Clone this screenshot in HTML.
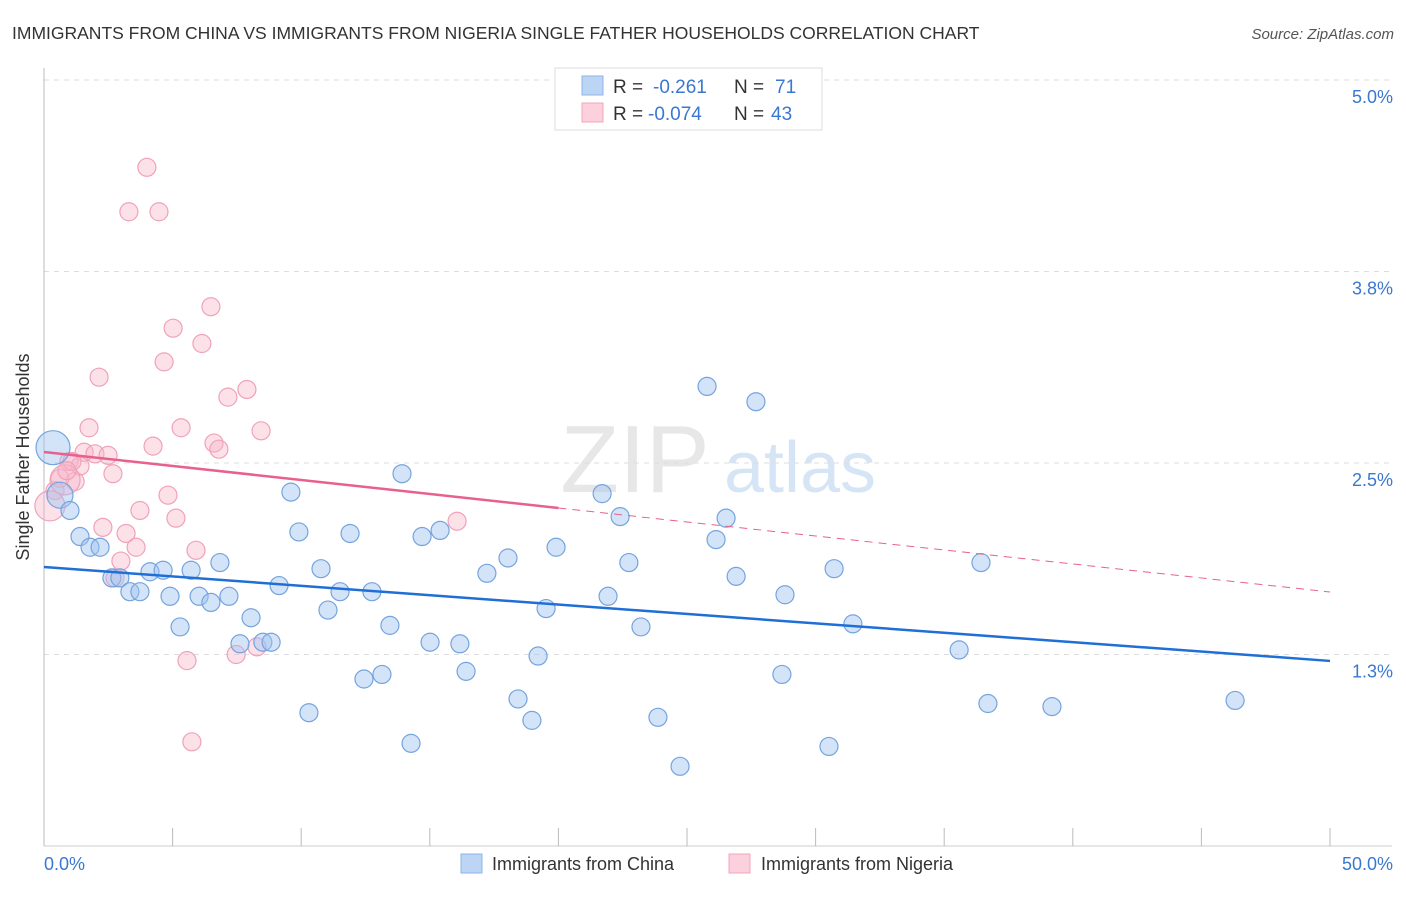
<!DOCTYPE html>
<html><head><meta charset="utf-8"><style>
body{margin:0;background:#fff;font-family:"Liberation Sans",sans-serif}
svg text{font-family:"Liberation Sans",sans-serif}
</style></head><body>
<svg id="c" width="1406" height="892">
<text x="12" y="39" font-size="17.5" fill="#333">IMMIGRANTS FROM CHINA VS IMMIGRANTS FROM NIGERIA SINGLE FATHER HOUSEHOLDS CORRELATION CHART</text>
<text x="1394" y="39" font-size="15" fill="#555" font-style="italic" text-anchor="end">Source: ZipAtlas.com</text>
<text x="29" y="457" font-size="18" fill="#333" text-anchor="middle" transform="rotate(-90 29 457)">Single Father Households</text>
<g><text x="635" y="492" font-size="96" fill="#ddd" font-family="Liberation Serif" text-anchor="middle" opacity="0.7">ZIP</text><text x="800" y="492" font-size="72" fill="#c6dbf2" text-anchor="middle" opacity="0.7">atlas</text></g>
<g id="grid"></g><g id="marks"></g><g id="lines"></g>
<g>
<rect x="555" y="68" width="267" height="62" fill="#fff" stroke="#ddd"/>
<rect x="582" y="76" width="21" height="19" fill="#bcd5f5" stroke="#8db4e6"/>
<rect x="582" y="103" width="21" height="19" fill="#fcd0dc" stroke="#f2a6bc"/>
<text x="613" y="93" font-size="19" fill="#333">R = </text><text x="653" y="93" font-size="19" fill="#3a78d0">-0.261</text>
<text x="734" y="93" font-size="19" fill="#333">N = </text><text x="775" y="93" font-size="19" fill="#3a78d0">71</text>
<text x="613" y="120" font-size="19" fill="#333">R = </text><text x="648" y="120" font-size="19" fill="#3a78d0">-0.074</text>
<text x="734" y="120" font-size="19" fill="#333">N = </text><text x="771" y="120" font-size="19" fill="#3a78d0">43</text>
</g>
<g>
<rect x="461" y="854" width="21" height="19" fill="#bcd5f5" stroke="#8db4e6"/>
<text x="492" y="870" font-size="18" fill="#333">Immigrants from China</text>
<rect x="729" y="854" width="21" height="19" fill="#fcd0dc" stroke="#f2a6bc"/>
<text x="761" y="870" font-size="18" fill="#333">Immigrants from Nigeria</text>
</g>
</svg>
<script>
const yTicks=[1.25,2.5,3.75,5.0];
const yTickLabels=["1.3%","2.5%","3.8%","5.0%"];
const xTicks=[0,5,10,15,20,25,30,35,40,45,50];
const xEndLabels=["0.0%","50.0%"];
const chinaX=[.35,.62,1.01,1.40,1.79,2.18,2.64,2.95,3.34,3.73,4.12,4.63,4.90,5.29,5.72,6.03,6.49,6.84,7.19,7.62,8.05,8.51,8.83,9.14,9.60,9.91,10.30,10.77,11.04,11.51,11.90,12.44,12.75,13.14,13.45,13.92,14.27,14.70,15.01,15.40,16.17,16.41,17.22,18.04,18.43,18.97,19.21,19.52,19.91,21.70,21.93,22.40,22.74,23.21,23.87,24.73,25.78,26.13,26.52,26.91,27.68,28.69,28.81,30.52,30.72,31.45,35.58,36.43,36.70,39.19,46.31];
const chinaY=[2.60,2.29,2.19,2.02,1.95,1.95,1.75,1.75,1.66,1.66,1.79,1.80,1.63,1.43,1.80,1.63,1.59,1.85,1.63,1.32,1.49,1.33,1.33,1.70,2.31,2.05,.87,1.81,1.54,1.66,2.04,1.09,1.66,1.12,1.44,2.43,.67,2.02,1.33,2.06,1.32,1.14,1.78,1.88,.96,.82,1.24,1.55,1.95,2.30,1.63,2.15,1.85,1.43,.84,.52,3.00,2.00,2.14,1.76,2.90,1.12,1.64,.65,1.81,1.45,1.28,1.85,.93,.91,.95];
const chinaSize=[17,13];
const nigeriaX=[4.00,3.30,4.47,6.49,5.02,6.14,4.67,2.14,7.89,7.15,1.75,5.33,8.44,4.24,6.61,6.80,1.56,1.98,2.49,.97,1.40,2.68,.62,1.21,.43,.23,4.82,3.73,5.13,2.29,3.19,3.58,5.91,2.99,16.06,2.76,5.56,7.47,8.28,5.75,.82,1.09,.89];
const nigeriaY=[4.43,4.14,4.14,3.52,3.38,3.28,3.16,3.06,2.98,2.93,2.73,2.73,2.71,2.61,2.63,2.59,2.57,2.56,2.55,2.51,2.48,2.43,2.40,2.38,2.32,2.22,2.29,2.19,2.14,2.08,2.04,1.95,1.93,1.86,2.12,1.75,1.21,1.25,1.30,.68,2.39,2.51,2.45];
const nigeriaBig=[25,40];
const chinaTrend=[1.821,1.208];
const nigeriaTrend=[2.572,1.658];
const nigeriaSolidEnd=20;
const X=v=>44+v*25.72, Y=v=>846-v*153.2;
const NS="http://www.w3.org/2000/svg";
function mk(t,a,p){const e=document.createElementNS(NS,t);for(const k in a)e.setAttribute(k,a[k]);p.appendChild(e);return e;}
const grid=document.getElementById('grid'),marks=document.getElementById('marks'),lines=document.getElementById('lines');
yTicks.forEach((t,i)=>{
 const l=mk('line',{x1:44,x2:1392,y1:Y(t),y2:Y(t),stroke:'#ddd','stroke-dasharray':'5,5'},grid);
 
 
 const tx=mk('text',{x:1393,y:Y(t)+23,'font-size':18,fill:'#3a78d0','text-anchor':'end'},grid);
 tx.textContent=yTickLabels[i];
 
 
});
const ya=mk('line',{x1:44,x2:44,y1:68,y2:846,stroke:'#bbb'},grid);


const xa=mk('line',{x1:44,x2:1392,y1:846,y2:846,stroke:'#ccc'},grid);


xTicks.forEach(t=>{
 const l=mk('line',{x1:X(t),x2:X(t),y1:828,y2:846,stroke:'#bbb'},grid);
 
 
});
[[0,'start',44],[50,'end',1393]].forEach((d,i)=>{
 const tx=mk('text',{x:d[2],y:870,'font-size':18,fill:'#3a78d0','text-anchor':d[1]},grid);
 tx.textContent=xEndLabels[i];
 
 
});
nigeriaX.forEach((v,i)=>{
 const r=nigeriaBig.includes(i)?15:9;
 const c=mk('circle',{cx:X(v),cy:Y(nigeriaY[i]),r:r,fill:'rgba(247,180,200,0.4)',stroke:'#f0a2ba','stroke-width':1.2},marks);
 
 
});
chinaX.forEach((v,i)=>{
 const r=chinaSize[i]||9;
 const c=mk('circle',{cx:X(v),cy:Y(chinaY[i]),r:r,fill:'rgba(160,196,240,0.45)',stroke:'#74a4de','stroke-width':1.2},marks);
 
 
});
const bl=mk('line',{x1:X(0),y1:Y(chinaTrend[0]),x2:X(50),y2:Y(chinaTrend[1]),stroke:'#1f6fd6','stroke-width':2.5},lines);


const py=x=>nigeriaTrend[0]+(nigeriaTrend[1]-nigeriaTrend[0])*x/50;
const pl=mk('line',{x1:X(0),y1:Y(py(0)),x2:X(nigeriaSolidEnd),y2:Y(py(nigeriaSolidEnd)),stroke:'#e8608e','stroke-width':2.5},lines);


const pd=mk('line',{x1:X(nigeriaSolidEnd),y1:Y(py(nigeriaSolidEnd)),x2:X(50),y2:Y(py(50)),stroke:'#e8608e','stroke-width':1,'stroke-dasharray':'8,6'},lines);


</script>
</body></html>
